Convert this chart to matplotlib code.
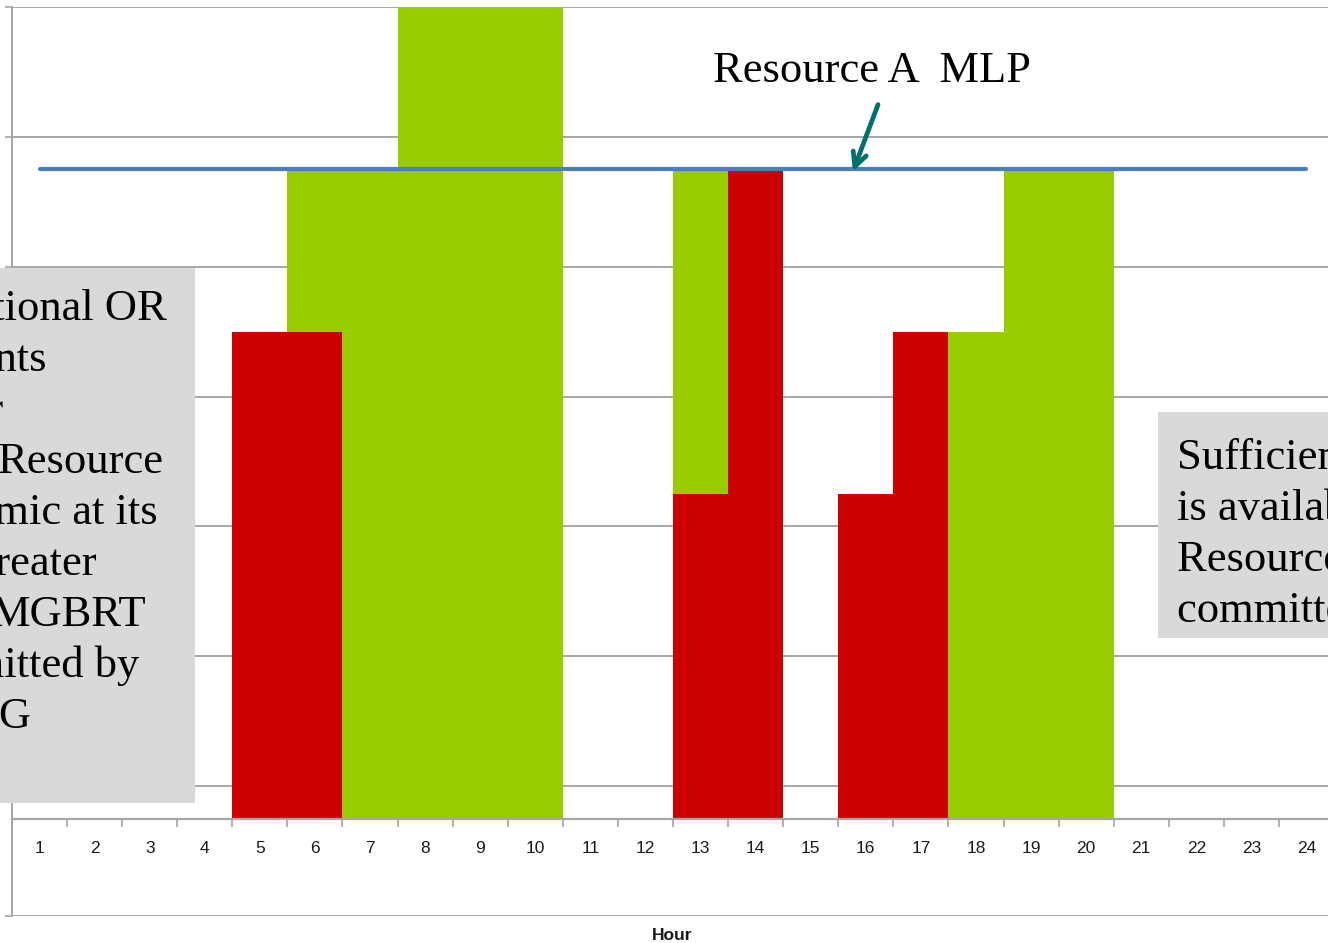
import matplotlib
matplotlib.use("Agg")
import matplotlib.pyplot as plt
from matplotlib.patches import Rectangle

# Hourly commitment data (MW above the axis baseline)
hours = list(range(1, 25))
red_mw = [0, 0, 0, 0, 75, 75, 0, 0, 0, 0, 0, 0, 50, 100, 0, 50, 75, 0, 0, 0, 0, 0, 0, 0]
green_mw = [0, 0, 0, 0, 0, 25, 100, 140, 140, 140, 0, 0, 50, 0, 0, 0, 0, 75, 100, 100, 0, 0, 0, 0]
mlp_mw = [100] * 24
hour_labels = [str(h) for h in hours]
baseline = 15

left_lines = ["Additional OR", "requirements", "or", "Resource", "economic at its",
              "greater", "MGBRT", "committed by", "RAG"]
right_lines = ["Sufficient OR", "is available,", "Resource A", "committed at MLP"]

W, H = 1328, 943
RED = "#CC0000"
GREEN = "#99CC00"
GRID = "#A6A6A6"


def fx(x):
    return x / W


def fy(y):
    return 1 - y / H


fig = plt.figure(figsize=(W / 100, H / 100), dpi=100)
ax = fig.add_axes([fx(12), fy(916), 1322 / W, 909 / H])
ax.set_xlim(0.5, 24.5)
ax.set_ylim(0, 140)
ax.set_axisbelow(True)

# stacked bars sitting on the axis baseline
red_top = [baseline + r for r in red_mw]
ax.bar(hours, red_mw, bottom=baseline, width=1.0, color=RED, linewidth=0, zorder=2)
ax.bar(hours, green_mw, bottom=red_top, width=1.0, color=GREEN, linewidth=0, zorder=2)

# MLP line
ax.plot(hours, [baseline + m for m in mlp_mw], color="#4A7EBB", lw=3.0,
        solid_capstyle="round", zorder=3)

# y grid and ticks (no labels)
ax.set_yticks(range(0, 141, 20))
ax.yaxis.grid(True, color=GRID, lw=1.4)
ax.tick_params(axis="y", which="major", length=5, width=1.2, color=GRID,
               labelleft=False, direction="out")

# category axis crossing at the baseline
for s in ["top", "right"]:
    ax.spines[s].set_visible(False)
ax.spines["left"].set_color(GRID)
ax.spines["left"].set_linewidth(1.4)
ax.spines["bottom"].set_position(("data", baseline))
ax.spines["bottom"].set_color(GRID)
ax.spines["bottom"].set_linewidth(1.6)
ax.spines["bottom"].set_zorder(4)
ax.set_xticks(hours)
ax.set_xticklabels(hour_labels, fontsize=12.5, family="Liberation Sans", color="#1A1A1A")
ax.set_xticks([h + 0.5 for h in [0] + hours], minor=True)
ax.tick_params(axis="x", which="major", length=0, pad=16)
ax.tick_params(axis="x", which="minor", length=6, width=1.2, color=GRID, direction="out")

fig.text(fx(672), fy(935), "Hour", ha="center", va="center", fontsize=12.5,
         fontweight="bold", family="Liberation Sans", color="#1A1A1A")

serif = "Liberation Serif"
fs = 32

# MLP label and arrow
fig.text(fx(713), fy(82), "Resource A  MLP", ha="left", va="baseline",
         fontsize=fs, family=serif, color="black")
ax.annotate("", xy=(852, H - 174), xycoords="figure pixels",
            xytext=(879, H - 102), textcoords="figure pixels",
            arrowprops=dict(arrowstyle="->,head_length=1.0,head_width=0.5",
                            color="#00706B", lw=3.4))

# left annotation box
fig.add_artist(Rectangle((fx(0), fy(803)), fx(195), (803 - 268) / H,
                         transform=fig.transFigure, facecolor="#D9D9D9",
                         edgecolor="none", zorder=5))
left_right_edges = [167, 47, 3, 164, 158, 97, 146, 139, 32]
left_baselines = [320, 371, 422, 473, 524, 575, 626, 677, 728]
for txt, xr, yb in zip(left_lines, left_right_edges, left_baselines):
    fig.text(fx(xr), fy(yb), txt, ha="right", va="baseline", fontsize=fs,
             family=serif, color="black", zorder=6)

# right annotation box
fig.add_artist(Rectangle((fx(1158), fy(638)), fx(200), (638 - 412) / H,
                         transform=fig.transFigure, facecolor="#D9D9D9",
                         edgecolor="none", zorder=5))
right_baselines = [469, 520, 571, 622]
for txt, yb in zip(right_lines, right_baselines):
    fig.text(fx(1177), fy(yb), txt, ha="left", va="baseline", fontsize=fs,
             family=serif, color="black", zorder=6)

fig.savefig("out.png", dpi=100)
